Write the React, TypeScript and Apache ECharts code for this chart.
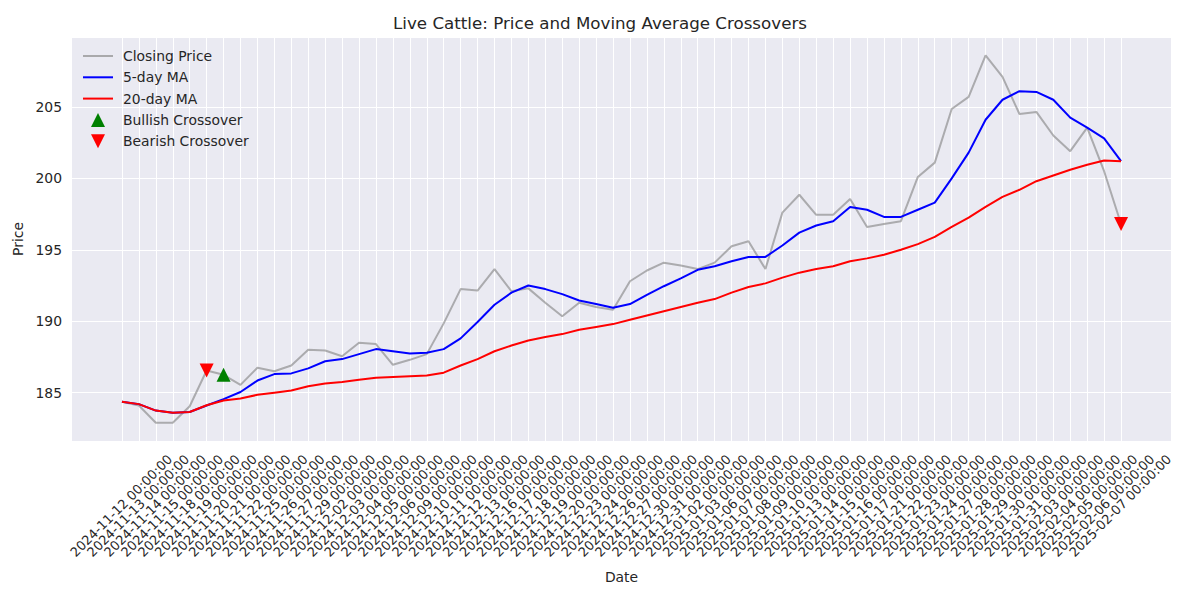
import React, { useEffect, useRef } from 'react';
import * as echarts from 'echarts';

const dates = [
  '2024-11-12 00:00:00', '2024-11-13 00:00:00', '2024-11-14 00:00:00', '2024-11-15 00:00:00',
  '2024-11-18 00:00:00', '2024-11-19 00:00:00', '2024-11-20 00:00:00', '2024-11-21 00:00:00',
  '2024-11-22 00:00:00', '2024-11-25 00:00:00', '2024-11-26 00:00:00', '2024-11-27 00:00:00',
  '2024-11-29 00:00:00', '2024-12-02 00:00:00', '2024-12-03 00:00:00', '2024-12-04 00:00:00',
  '2024-12-05 00:00:00', '2024-12-06 00:00:00', '2024-12-09 00:00:00', '2024-12-10 00:00:00',
  '2024-12-11 00:00:00', '2024-12-12 00:00:00', '2024-12-13 00:00:00', '2024-12-16 00:00:00',
  '2024-12-17 00:00:00', '2024-12-18 00:00:00', '2024-12-19 00:00:00', '2024-12-20 00:00:00',
  '2024-12-23 00:00:00', '2024-12-24 00:00:00', '2024-12-26 00:00:00', '2024-12-27 00:00:00',
  '2024-12-30 00:00:00', '2024-12-31 00:00:00', '2025-01-02 00:00:00', '2025-01-03 00:00:00',
  '2025-01-06 00:00:00', '2025-01-07 00:00:00', '2025-01-08 00:00:00', '2025-01-09 00:00:00',
  '2025-01-10 00:00:00', '2025-01-13 00:00:00', '2025-01-14 00:00:00', '2025-01-15 00:00:00',
  '2025-01-16 00:00:00', '2025-01-17 00:00:00', '2025-01-21 00:00:00', '2025-01-22 00:00:00',
  '2025-01-23 00:00:00', '2025-01-24 00:00:00', '2025-01-27 00:00:00', '2025-01-28 00:00:00',
  '2025-01-29 00:00:00', '2025-01-30 00:00:00', '2025-01-31 00:00:00', '2025-02-03 00:00:00',
  '2025-02-04 00:00:00', '2025-02-05 00:00:00', '2025-02-06 00:00:00', '2025-02-07 00:00:00',
];

const closePrice = [
  184.37, 184.1, 182.9, 182.9, 184.05, 186.55, 186.25, 185.55, 186.75, 186.5,
  186.9, 188.0, 187.95, 187.55, 188.5, 188.4, 186.95, 187.3, 187.7, 189.85,
  192.25, 192.15, 193.65, 192.1, 192.3, 191.3, 190.35, 191.3, 191.0, 190.8,
  192.8, 193.55, 194.1, 193.9, 193.65, 194.1, 195.25, 195.6, 193.65, 197.6,
  198.85, 197.45, 197.45, 198.55, 196.6, 196.8, 197.0, 200.1, 201.1, 204.85,
  205.7, 208.6, 207.1, 204.5, 204.65, 203.0, 201.9, 203.55, 200.5, 196.8,
];

const ma5 = [
  184.37, 184.2, 183.75, 183.6, 183.65, 184.1, 184.55, 185.05, 185.85, 186.3,
  186.35, 186.7, 187.2, 187.35, 187.7, 188.05, 187.9, 187.75, 187.8, 188.05,
  188.8, 189.95, 191.15, 192.0, 192.5, 192.25, 191.9, 191.45, 191.2, 190.95,
  191.2, 191.85, 192.45, 193.0, 193.6, 193.85, 194.2, 194.5, 194.5, 195.3,
  196.2, 196.7, 197.0, 198.0, 197.8, 197.3, 197.3, 197.8, 198.3, 200.0,
  201.8, 204.1, 205.5, 206.1, 206.05, 205.5, 204.25, 203.55, 202.8, 201.2,
];

const ma20 = [
  184.37, 184.2, 183.75, 183.6, 183.65, 184.12, 184.45, 184.6, 184.85, 185.0,
  185.15, 185.45, 185.65, 185.75, 185.9, 186.05, 186.1, 186.15, 186.2, 186.4,
  186.9, 187.35, 187.9, 188.3, 188.65, 188.9, 189.1, 189.4, 189.6, 189.8,
  190.1, 190.4, 190.7, 191.0, 191.3, 191.55, 192.0, 192.4, 192.65, 193.05,
  193.4, 193.65, 193.85, 194.2, 194.4, 194.65, 195.0, 195.4, 195.9, 196.6,
  197.25, 198.0, 198.7, 199.2, 199.8, 200.2, 200.6, 200.95, 201.25, 201.2,
];

const bullishDates = ['2024-11-20 00:00:00'];
const bearishDates = ['2024-11-19 00:00:00', '2025-02-07 00:00:00'];

const seriesNames = ['Closing Price', '5-day MA', '20-day MA', 'Bullish Crossover', 'Bearish Crossover'];

const Y_MIN = 181.62;
const Y_MAX = 209.89;
const X_MIN = -2.95;
const X_MAX = 61.95;

const FONT = '"DejaVu Sans", sans-serif';
const TEXT = '#262626';
const LINE_ICON = 'path://M0,0H30V2H0Z';
const UP_ICON = 'path://M1,0L2,2L0,2Z';
const DOWN_ICON = 'path://M0,0L2,0L1,2Z';

export default function App() {
  const ref = useRef<HTMLDivElement>(null);

  useEffect(() => {
    const chart = echarts.init(ref.current as HTMLDivElement, null, { renderer: 'svg' });
    const xy = (arr: number[]) => arr.map((v, i) => [i, v]);
    const pts = (ds: string[]) =>
      ds.map((d) => {
        const i = dates.indexOf(d);
        return [i, closePrice[i]];
      });

    chart.setOption({
      animation: false,
      backgroundColor: '#ffffff',
      textStyle: { fontFamily: FONT },
      title: {
        text: 'Live Cattle: Price and Moving Average Crossovers',
        left: 'center',
        top: 9,
        textStyle: { fontSize: 16.7, fontWeight: 'normal', color: TEXT, fontFamily: FONT },
      },
      legend: {
        orient: 'vertical',
        left: 78,
        top: 44,
        itemWidth: 30,
        itemHeight: 14,
        itemGap: 7.3,
        symbolKeepAspect: true,
        data: [
          { name: seriesNames[0], icon: LINE_ICON },
          { name: seriesNames[1], icon: LINE_ICON },
          { name: seriesNames[2], icon: LINE_ICON },
          { name: seriesNames[3], icon: UP_ICON },
          { name: seriesNames[4], icon: DOWN_ICON },
        ],
        textStyle: { fontSize: 13.9, color: TEXT, fontFamily: FONT, lineHeight: 14, padding: [0, 0, 0, 5] },
      },
      grid: [
        { left: 72, right: 29, top: 37, bottom: 159, show: true, backgroundColor: '#EAEAF2', borderWidth: 0, z: -1 },
        { left: 122, right: 79, top: 37, bottom: 159 },
        { left: 170, right: 31, top: 37, bottom: 159 },
      ],
      xAxis: [
        {
          type: 'value',
          gridIndex: 0,
          min: X_MIN,
          max: X_MAX,
          axisLine: { show: false },
          axisTick: { show: false },
          axisLabel: { show: false },
          splitLine: { show: false },
          name: 'Date',
          nameLocation: 'middle',
          nameGap: 129,
          nameTextStyle: { fontSize: 13.9, color: TEXT, fontFamily: FONT },
        },
        {
          type: 'category',
          gridIndex: 1,
          data: dates,
          boundaryGap: false,
          axisLine: { show: false },
          axisTick: { show: false },
          axisLabel: { show: false },
          splitLine: { show: true, interval: 0, lineStyle: { color: '#ffffff', width: 1 } },
        },
        {
          type: 'category',
          gridIndex: 2,
          data: dates,
          boundaryGap: false,
          axisLine: { show: false },
          axisTick: { show: false },
          splitLine: { show: false },
          axisLabel: { interval: 0, rotate: 45, margin: 16, fontSize: 13, color: TEXT, fontFamily: FONT },
        },
      ],
      yAxis: [
        {
          type: 'value',
          gridIndex: 0,
          min: Y_MIN,
          max: Y_MAX,
          axisLine: { show: false },
          axisTick: { show: false },
          axisLabel: {
            fontSize: 13.9,
            color: TEXT,
            fontFamily: FONT,
            margin: 10,
            showMinLabel: false,
            showMaxLabel: false,
            formatter: (v: number) => (Math.abs(v - Math.round(v / 5) * 5) < 1e-6 ? String(Math.round(v)) : ''),
          },
          splitLine: { show: true, lineStyle: { color: '#ffffff', width: 1 } },
          name: 'Price',
          nameLocation: 'middle',
          nameGap: 39,
          nameTextStyle: { fontSize: 13.9, color: TEXT, fontFamily: FONT },
        },
        { type: 'value', gridIndex: 1, show: false },
        { type: 'value', gridIndex: 2, show: false },
      ],
      series: [
        {
          name: seriesNames[0],
          type: 'line',
          xAxisIndex: 0,
          yAxisIndex: 0,
          data: xy(closePrice),
          symbol: 'none',
          lineStyle: { color: '#808080', width: 2, opacity: 0.6 },
          itemStyle: { color: '#a9a9ab' },
          z: 2,
        },
        {
          name: seriesNames[1],
          type: 'line',
          xAxisIndex: 0,
          yAxisIndex: 0,
          data: xy(ma5),
          symbol: 'none',
          lineStyle: { color: '#0000ff', width: 2 },
          itemStyle: { color: '#0000ff' },
          z: 3,
        },
        {
          name: seriesNames[2],
          type: 'line',
          xAxisIndex: 0,
          yAxisIndex: 0,
          data: xy(ma20),
          symbol: 'none',
          lineStyle: { color: '#ff0000', width: 2 },
          itemStyle: { color: '#ff0000' },
          z: 4,
        },
        {
          name: seriesNames[3],
          type: 'scatter',
          xAxisIndex: 0,
          yAxisIndex: 0,
          data: pts(bullishDates),
          symbol: UP_ICON,
          symbolSize: 14,
          itemStyle: { color: '#008000', opacity: 1 },
          z: 5,
        },
        {
          name: seriesNames[4],
          type: 'scatter',
          xAxisIndex: 0,
          yAxisIndex: 0,
          data: pts(bearishDates),
          symbol: DOWN_ICON,
          symbolSize: 14,
          itemStyle: { color: '#ff0000', opacity: 1 },
          z: 5,
        },
      ],
    });

    return () => {
      chart.dispose();
    };
  }, []);

  return (
    <div
      ref={ref}
      style={{ position: 'absolute', left: 0, top: 0, width: 1200, height: 600 }}
    />
  );
}
